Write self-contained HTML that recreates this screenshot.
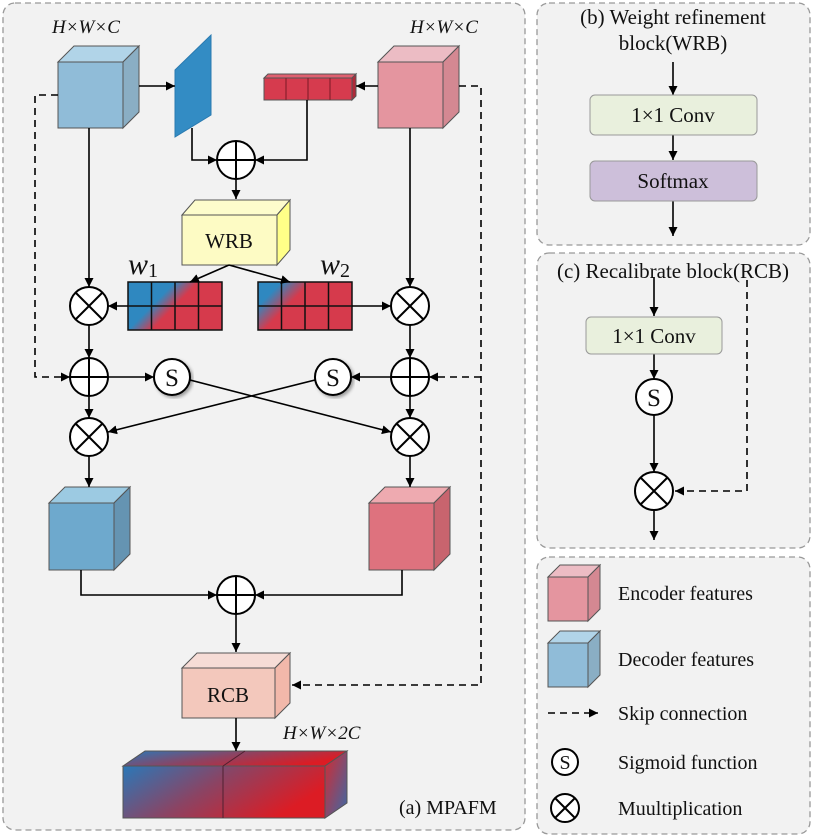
<!DOCTYPE html><html><head><style>body{margin:0;background:#fff}svg{display:block}svg text{font-family:"Liberation Serif","DejaVu Serif",serif !important;fill:#111}</style></head><body>
<svg width="814" height="838" viewBox="0 0 814 838" xmlns="http://www.w3.org/2000/svg" font-family="Liberation Serif, serif">
<defs>
<marker id="a" viewBox="0 0 10 10" refX="10" refY="5" markerWidth="9" markerHeight="9" orient="auto-start-reverse" markerUnits="userSpaceOnUse"><path d="M0,0L10,5L0,10z" fill="#000"/></marker>
<linearGradient id="g1" x1="0" y1="0" x2="1" y2="0.5"><stop offset="0.4" stop-color="#2f88c0"/><stop offset="0.6" stop-color="#d63a4c"/></linearGradient>
<linearGradient id="g2" x1="0" y1="0" x2="1" y2="0.5"><stop offset="0.2" stop-color="#2f88c0"/><stop offset="0.45" stop-color="#d63a4c"/></linearGradient>
<linearGradient id="go" x1="0" y1="0" x2="1" y2="0.4"><stop offset="0" stop-color="#2a78b8"/><stop offset="0.5" stop-color="#8a4464"/><stop offset="1" stop-color="#dc1c24"/></linearGradient>
<linearGradient id="gs" x1="0" y1="0" x2="1" y2="1"><stop offset="0" stop-color="#d52a30"/><stop offset="1" stop-color="#3a6aa8"/></linearGradient>
<filter id="sh"><feDropShadow dx="2" dy="2" stdDeviation="1.5" flood-opacity="0.35"/></filter>
</defs>
<g fill="#f2f2f2" stroke="#999" stroke-dasharray="6,4" stroke-width="1.3">
<rect x="3" y="3" width="522" height="827" rx="12"/>
<rect x="537" y="3" width="273" height="242" rx="12"/>
<rect x="537" y="253" width="273" height="295" rx="12"/>
<rect x="537" y="557" width="273" height="277" rx="12"/>
</g>
<g stroke="#555" stroke-width="1">
<path d="M58,62L74,46H139L123,62z" fill="#b1d4e8"/><path d="M123,62L139,46V112L123,128z" fill="#8aaec4"/><rect x="58" y="62" width="65" height="66" fill="#90bcd8"/>
<path d="M378,62L394,46H459L443,62z" fill="#ecbcc4"/><path d="M443,62L459,46V112L443,128z" fill="#d48892"/><rect x="378" y="62" width="65" height="66" fill="#e4959f"/>
<path d="M175,70L211,35V115L175,137z" fill="#338cc4" stroke="#2a7ab0"/>
<path d="M264,78L268,74H356L352,78z" fill="#e06070"/><path d="M352,78L356,74V96L352,100z" fill="#b02a3a"/>
<rect x="264" y="78" width="88" height="22" fill="#d63b4e"/>
<path d="M286,78V100M308,78V100M330,78V100" stroke="#7a1a26"/>
<path d="M182,215L195,200H290L277,215z" fill="#fdfccc"/><path d="M277,215L290,200V250L277,265z" fill="#ffff88"/><rect x="182" y="215" width="95" height="50" fill="#fdfbc4"/>
<path d="M49,503L65,487H130L114,503z" fill="#9ccae2"/><path d="M114,503L130,487V554L114,570z" fill="#6594b2"/><rect x="49" y="503" width="65" height="67" fill="#6ea9cd"/>
<path d="M369,503L385,487H450L434,503z" fill="#eeaab0"/><path d="M434,503L450,487V554L434,570z" fill="#c8646e"/><rect x="369" y="503" width="65" height="67" fill="#de727e"/>
<path d="M182,668L197,653H290L275,668z" fill="#f6dcd6"/><path d="M275,668L290,653V703L275,718z" fill="#f2b8aa"/><rect x="182" y="668" width="93" height="50" fill="#f3c8bc"/>
<path d="M123,766L145,751H347L325,766z" fill="url(#go)"/><path d="M325,766L347,751V803L325,818z" fill="url(#gs)"/><rect x="123" y="766" width="202" height="52" fill="url(#go)"/>
<path d="M223,766V818M223,766L245,751" stroke="#502030"/>
<path d="M548,577L560,565H600L588,577z" fill="#ecbcc4"/><path d="M588,577L600,565V609L588,621z" fill="#d48892"/><rect x="548" y="577" width="40" height="44" fill="#e4959f"/>
<path d="M548,643L560,631H600L588,643z" fill="#b1d4e8"/><path d="M588,643L600,631V675L588,687z" fill="#8aaec4"/><rect x="548" y="643" width="40" height="44" fill="#90bcd8"/>
</g>
<g stroke="#111" stroke-width="1.5">
<rect x="128" y="282" width="94" height="48" fill="url(#g1)"/>
<path d="M151.5,282V330M175,282V330M198.5,282V330M128,306H222" fill="none"/>
<rect x="258" y="282" width="94" height="48" fill="url(#g2)"/>
<path d="M281.5,282V330M305,282V330M328.5,282V330M258,306H352" fill="none"/>
</g>
<g stroke="#000" stroke-width="1.6" fill="none" marker-end="url(#a)">
<path d="M139,86H175"/><path d="M378,86H356"/>
<path d="M192,128V160H217"/><path d="M307,100V160H255"/>
<path d="M236,179V199"/>
<path d="M229,265L190,282"/><path d="M229,265L290,282"/>
<path d="M89,128V287"/><path d="M410,128V287"/>
<path d="M128,306H108"/><path d="M352,306H391"/>
<path d="M89,325V358"/><path d="M410,325V358"/>
<path d="M108,377H154"/><path d="M391,377H351"/>
<path d="M190,380L391,432"/><path d="M315,380L108,432"/>
<path d="M89,396V418"/><path d="M410,396V418"/>
<path d="M89,456V487"/><path d="M410,456V487"/>
<path d="M81,570V595H217"/><path d="M402,570V595H255"/>
<path d="M236,614V652"/><path d="M236,718V751"/>
<path d="M673,62V95"/><path d="M673,135V160"/><path d="M673,201V236"/>
<path d="M654,277V316"/><path d="M654,354V379"/><path d="M654,415V472"/><path d="M654,510V540"/>
</g>
<g stroke="#000" stroke-width="1.6" fill="none" stroke-dasharray="7,5" marker-end="url(#a)">
<path d="M58,95H35V377H70"/>
<path d="M459,86H481V685H292"/>
<path d="M481,377H429"/>
<path d="M747,280V491H675"/>
<path d="M548,713H598"/>
</g>
<g stroke="#000" stroke-width="2" fill="#fff">
<circle cx="236" cy="160" r="19"/><path d="M236,141V179M217,160H255"/>
<circle cx="236" cy="595" r="19"/><path d="M236,576V614M217,595H255"/>
<circle cx="89" cy="377" r="19"/><path d="M89,358V396M70,377H108"/>
<circle cx="410" cy="377" r="19"/><path d="M410,358V396M391,377H429"/>
<circle cx="89" cy="306" r="19"/><path d="M76,293L102,319M102,293L76,319"/>
<circle cx="410" cy="306" r="19"/><path d="M397,293L423,319M423,293L397,319"/>
<circle cx="89" cy="437" r="19"/><path d="M76,424L102,450M102,424L76,450"/>
<circle cx="410" cy="437" r="19"/><path d="M397,424L423,450M423,424L397,450"/>
<circle cx="654" cy="491" r="19"/><path d="M641,478L667,504M667,478L641,504"/>
<circle cx="565" cy="808" r="14"/><path d="M555,798L575,818M575,798L555,818"/>
<circle cx="172" cy="377" r="18" filter="url(#sh)"/>
<circle cx="333" cy="377" r="18" filter="url(#sh)"/>
<ellipse cx="654" cy="397" rx="18" ry="18"/>
<circle cx="565" cy="762" r="13"/>
</g>
<g font-size="25" text-anchor="middle">
<text x="172" y="386">S</text><text x="333" y="386">S</text><text x="654" y="406">S</text>
<text x="565" y="769" font-size="20">S</text>
</g>
<rect x="590" y="95" width="167" height="40" rx="5" fill="#e9f0dd" stroke="#999"/>
<rect x="590" y="161" width="167" height="40" rx="5" fill="#cdbfda" stroke="#999"/>
<rect x="586" y="317" width="136" height="37" rx="5" fill="#e9f0dd" stroke="#999"/>
<g font-size="21" text-anchor="middle">
<text x="229" y="248">WRB</text><text x="228" y="702">RCB</text>
<text x="673" y="122">1×1 Conv</text><text x="673" y="188">Softmax</text>
<text x="654" y="343">1×1 Conv</text>
<text x="673" y="24">(b) Weight refinement</text><text x="673" y="50">block(WRB)</text>
<text x="673" y="278">(c) Recalibrate block(RCB)</text>
</g>
<g font-size="20">
<text x="399" y="814">(a) MPAFM</text>
<text x="618" y="600">Encoder features</text><text x="618" y="666">Decoder features</text>
<text x="618" y="720">Skip connection</text><text x="618" y="769">Sigmoid function</text><text x="618" y="815">Muultiplication</text>
</g>
<g font-size="19" font-style="italic">
<text x="52" y="33">H×W×C</text><text x="410" y="33">H×W×C</text><text x="283" y="739">H×W×2C</text>
</g>
<g font-size="30" font-style="italic"><text x="128" y="274">w<tspan font-size="20" font-style="normal" dy="3">1</tspan></text><text x="320" y="274">w<tspan font-size="20" font-style="normal" dy="3">2</tspan></text></g>
</svg></body></html>
